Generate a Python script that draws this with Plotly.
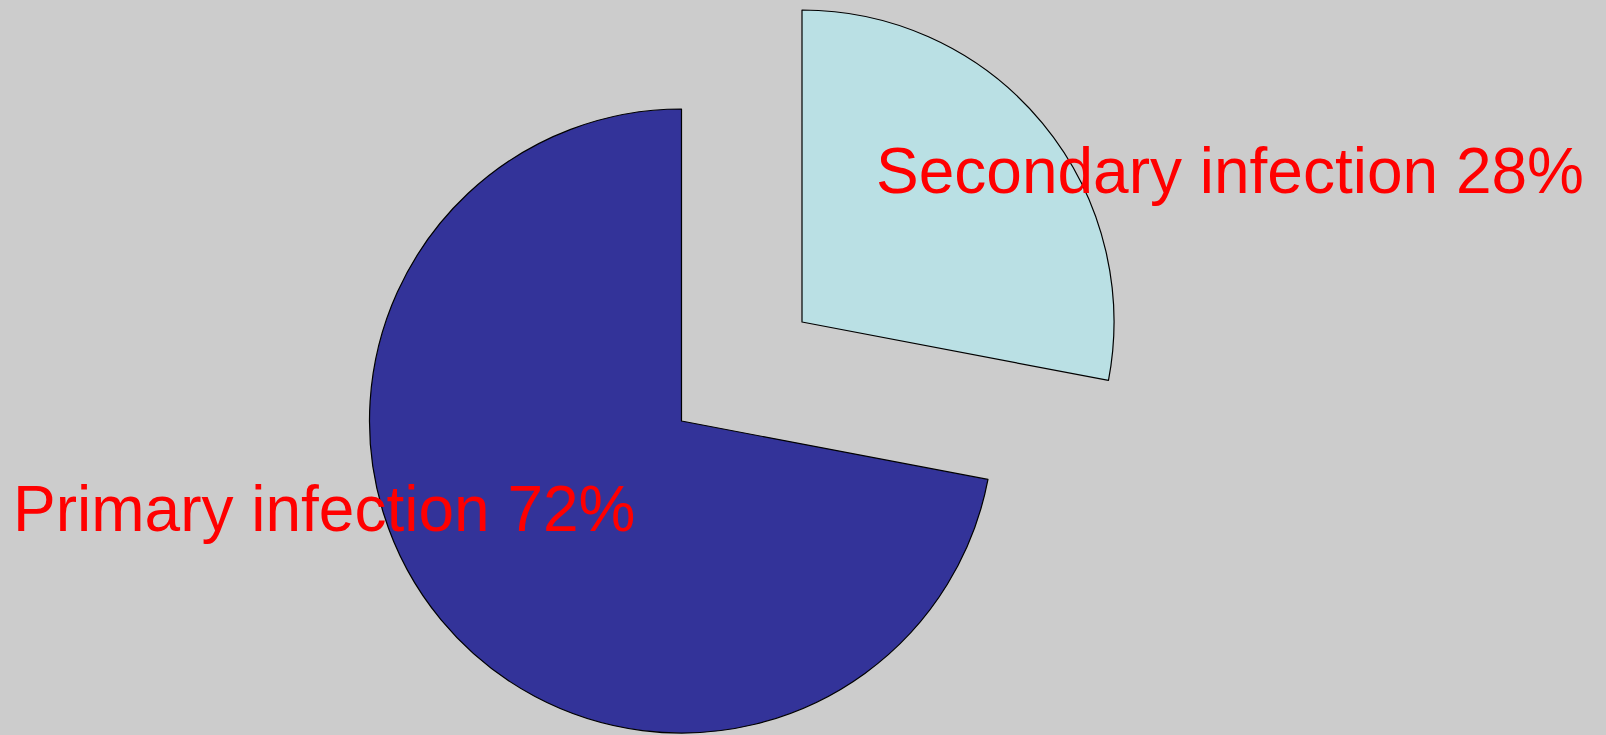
import plotly.graph_objects as go

# Share of infections by type (listed in drawing order, clockwise from 12 o'clock)
labels = ["Secondary infection", "Primary infection"]
values = [28, 72]
slice_colors = ["#BAE0E4", "#333399"]

W, H = 1606, 735
total = sum(values)
percents = [round(v / total * 100) for v in values]

# Each slice is drawn as its own pie so the exploded piece can sit apart
# from the rest: (center x, center y, radius) in pixels, top-left origin.
placements = [(802.0, 322.0, 312.0), (681.5, 421.0, 312.0)]
# Label centers in pixels
label_pos = [(1230, 171), (324, 509)]


def domain_for(cx, cy, r):
    return dict(
        x=[(cx - r) / W, (cx + r) / W],
        y=[(H - cy - r) / H, (H - cy + r) / H],
    )


fig = go.Figure()
for i, (cx, cy, r) in enumerate(placements):
    fill = ["rgba(0,0,0,0)"] * len(values)
    line_c = ["rgba(0,0,0,0)"] * len(values)
    line_w = [0] * len(values)
    fill[i] = slice_colors[i]
    line_c[i] = "black"
    line_w[i] = 1.2
    fig.add_trace(
        go.Pie(
            labels=labels,
            values=values,
            sort=False,
            direction="clockwise",
            rotation=0,
            textinfo="none",
            hoverinfo="label+percent",
            marker=dict(colors=fill, line=dict(color=line_c, width=line_w)),
            domain=domain_for(cx, cy, r),
            showlegend=False,
        )
    )

for i, (lx, ly) in enumerate(label_pos):
    fig.add_annotation(
        text=f"{labels[i]} {percents[i]}%",
        x=lx / W,
        y=1 - ly / H,
        xref="paper",
        yref="paper",
        xanchor="center",
        yanchor="middle",
        showarrow=False,
        font=dict(family="Liberation Sans, Arial, sans-serif", size=64, color="#FF0000"),
    )

fig.update_layout(
    width=W,
    height=H,
    margin=dict(l=0, r=0, t=0, b=0),
    paper_bgcolor="#CCCCCC",
    plot_bgcolor="#CCCCCC",
    showlegend=False,
)

fig.write_html("out.html")
